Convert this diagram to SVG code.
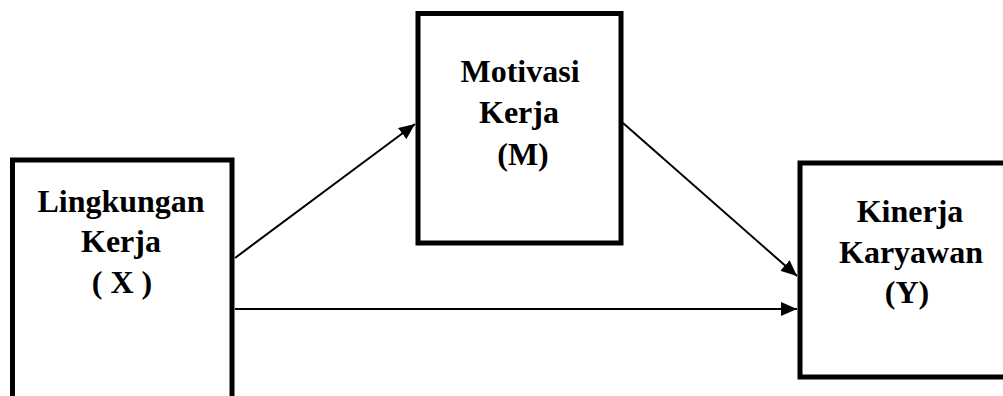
<svg xmlns="http://www.w3.org/2000/svg" width="1003" height="396" viewBox="0 0 1003 396">
<style>
.box{fill:#fff;stroke:#000;stroke-width:5}
.lbl{font-family:"Liberation Serif","Times New Roman",serif;font-weight:bold;font-size:32px;fill:#000;text-anchor:middle}
.con{stroke:#000;stroke-width:2;fill:none;marker-end:url(#ah)}
</style>
<defs>
<marker id="ah" markerUnits="userSpaceOnUse" markerWidth="18" markerHeight="14" refX="16" refY="7" orient="auto">
<path d="M0,0 L16,7 L0,14 Z" fill="#000"/>
</marker>
</defs>
<rect width="1003" height="396" fill="#fff"/>
<g id="nodeX">
<rect class="box" x="12.5" y="160" width="219.5" height="250"/>
<text class="lbl" x="121" y="212">Lingkungan</text>
<text class="lbl" x="121" y="252">Kerja</text>
<text class="lbl" x="122" y="293">( X )</text>
</g>
<g id="nodeM">
<rect class="box" x="418" y="13.5" width="203" height="229.5"/>
<text class="lbl" x="520" y="82">Motivasi</text>
<text class="lbl" x="519" y="123">Kerja</text>
<text class="lbl" x="523" y="165">(M)</text>
</g>
<g id="nodeY">
<rect class="box" x="800" y="163" width="220" height="214"/>
<text class="lbl" x="910" y="222">Kinerja</text>
<text class="lbl" x="911" y="263">Karyawan</text>
<text class="lbl" x="907" y="303">(Y)</text>
</g>
<g id="connectors">
<line class="con" x1="235" y1="258" x2="415" y2="124"/>
<line class="con" x1="623" y1="123" x2="797" y2="276"/>
<line class="con" x1="235" y1="309" x2="797" y2="309"/>
</g>
</svg>
